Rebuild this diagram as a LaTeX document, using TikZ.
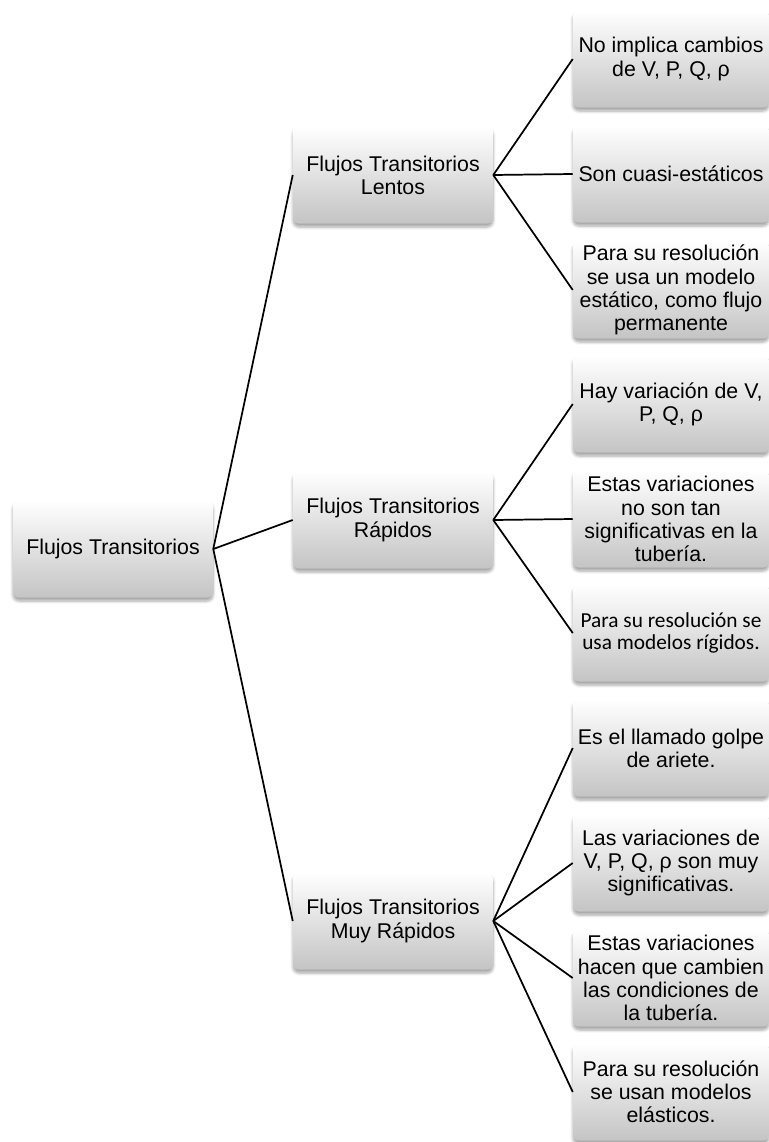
\documentclass[tikz,border=0pt]{standalone}
\usepackage{fontspec}
\setmainfont{Liberation Sans}
\newfontfamily\calibrifont{Carlito}
\usetikzlibrary{shadows.blur}
\definecolor{boxbottom}{RGB}{196,196,196}
\tikzset{
  box/.style={rounded corners=4.5pt, top color=white, bottom color=boxbottom,
    minimum width=150pt, minimum height=73pt, align=center, inner sep=2pt,
    font=\fontsize{16}{17.4}\selectfont,
    blur shadow={shadow xshift=0pt, shadow yshift=-2.5pt, shadow blur steps=6, shadow opacity=35}},
  leafbox/.style={box, minimum width=147pt},
  link/.style={line width=1.3pt}
}
\begin{document}
\begin{tikzpicture}[x=0.75pt, y=-0.75pt]
  \useasboundingbox (0,0) rectangle (768,1142);
  % root and branches
  \node[box] (root) at (113,549) {Flujos Transitorios};
  \node[box] (slow) at (393,175) {Flujos Transitorios\\Lentos};
  \node[box] (fast) at (393,520) {Flujos Transitorios\\Rápidos};
  \node[box] (vfast) at (393,921) {Flujos Transitorios\\Muy Rápidos};
  %
  \node[leafbox] (slow1) at (671,59) {No implica cambios\\de V, P, Q, ρ};
  \node[leafbox] (slow2) at (671,174) {Son cuasi-estáticos};
  \node[leafbox] (slow3) at (671,290) {Para su resolución\\se usa un modelo\\estático, como flujo\\permanente};
  %
  \node[leafbox] (fast1) at (671,404) {Hay variación de V,\\P, Q, ρ};
  \node[leafbox] (fast2) at (671,519) {Estas variaciones\\no son tan\\significativas en la\\tubería.};
  \node[leafbox, font=\calibrifont\fontsize{16}{16.8}\selectfont] (fast3) at (671,633) {Para su resolución se\\usa modelos rígidos.};
  %
  \node[leafbox] (vfast1) at (671,748) {Es el llamado golpe\\de ariete.};
  \node[leafbox] (vfast2) at (671,863) {Las variaciones de\\V, P, Q, ρ son muy\\significativas.};
  \node[leafbox] (vfast3) at (671,978) {Estas variaciones\\hacen que cambien\\las condiciones de\\la tubería.};
  \node[leafbox] (vfast4) at (671,1092) {Para su resolución\\se usan modelos\\elásticos.};
  %
  \foreach \n in {slow,fast,vfast} {
    \draw[link] (root.east) -- (\n.west);
  }
  \foreach \n in {slow1,slow2,slow3} {
    \draw[link] (slow.east) -- (\n.west);
  }
  \foreach \n in {fast1,fast2,fast3} {
    \draw[link] (fast.east) -- (\n.west);
  }
  \foreach \n in {vfast1,vfast2,vfast3,vfast4} {
    \draw[link] (vfast.east) -- (\n.west);
  }
\end{tikzpicture}
\end{document}
